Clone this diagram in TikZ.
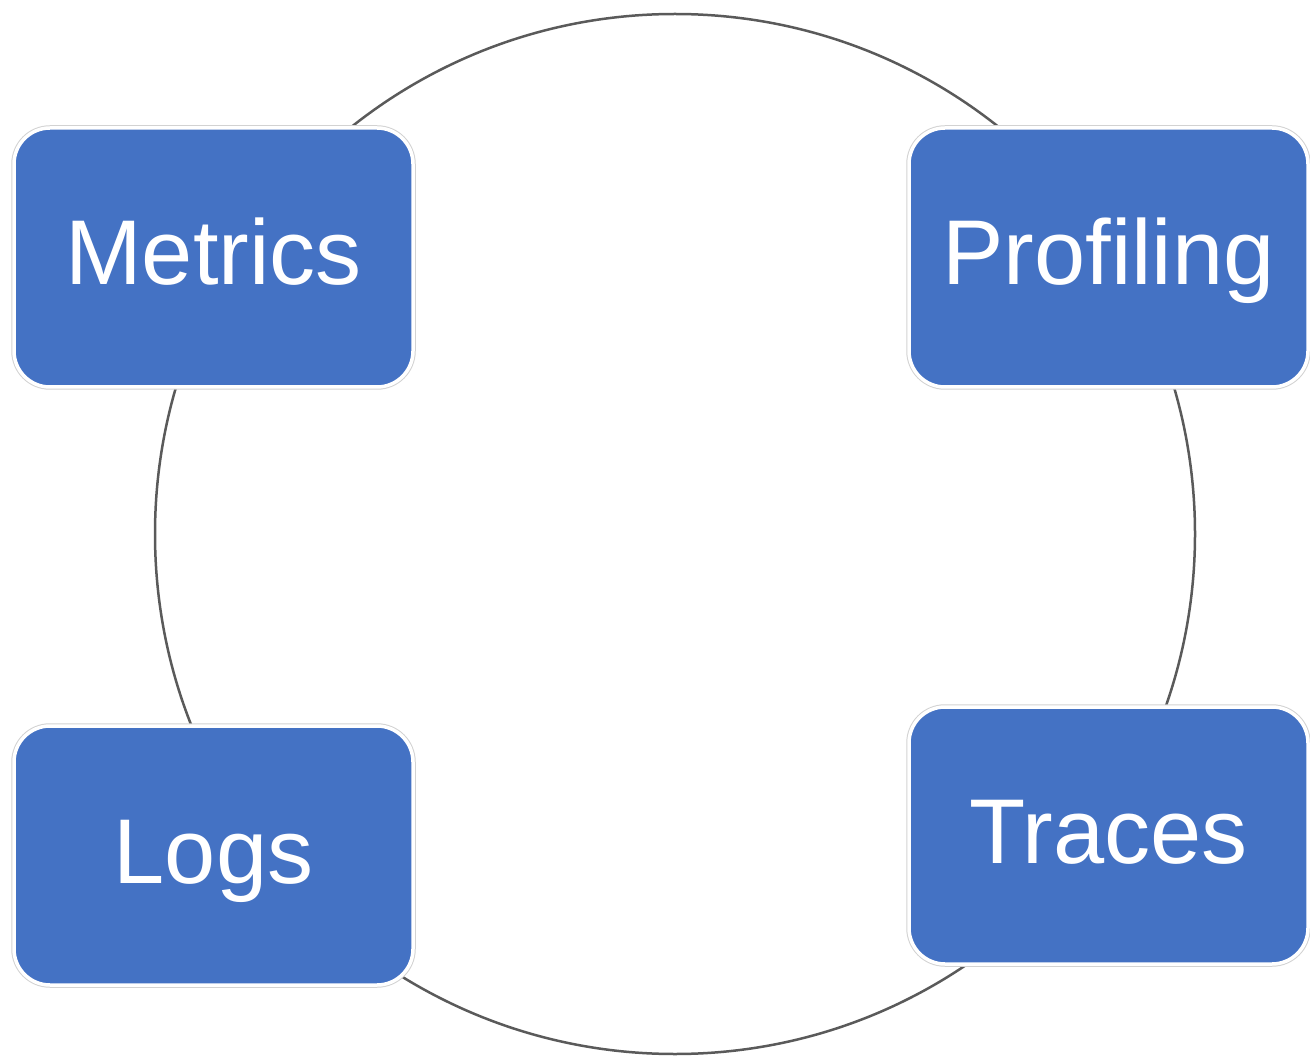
\documentclass[tikz,border=0pt]{standalone}
\usepackage{fontspec}
\setmainfont{Liberation Sans}
\definecolor{tileblue}{HTML}{4472C4}
\definecolor{ringgray}{HTML}{5A5A5A}
\definecolor{rimgray}{HTML}{D2D2D2}
\begin{document}
\begin{tikzpicture}[x=1pt,y=-1pt,
  tile/.style={rectangle, rounded corners=36pt, fill=tileblue,
    draw=white, line width=3.5pt,
    preaction={draw=rimgray, line width=5.5pt},
    minimum width=399pt, inner sep=0pt,
    text=white, font=\fontsize{92}{110}\selectfont,
    text height=70pt, text depth=15pt},
  ring/.style={circle, draw=ringgray, line width=2.5pt, inner sep=0pt,
    minimum size=1040pt}]
  \useasboundingbox (0,0) rectangle (1310,1059);
  % the cycle behind the four tiles
  \node[ring] (cycle) at (675,534) {};
  % the four tiles
  \node[tile, minimum height=259pt] (metrics)   at (213.5,257.5) {Metrics};
  \node[tile, minimum height=259pt] (profiling) at (1108.5,257.5) {Profiling};
  \node[tile, minimum height=259pt] (logs)      at (213.5,855.5) {Logs};
  \node[tile, minimum height=257pt] (traces)    at (1108.5,835.5) {Traces};
\end{tikzpicture}
\end{document}
